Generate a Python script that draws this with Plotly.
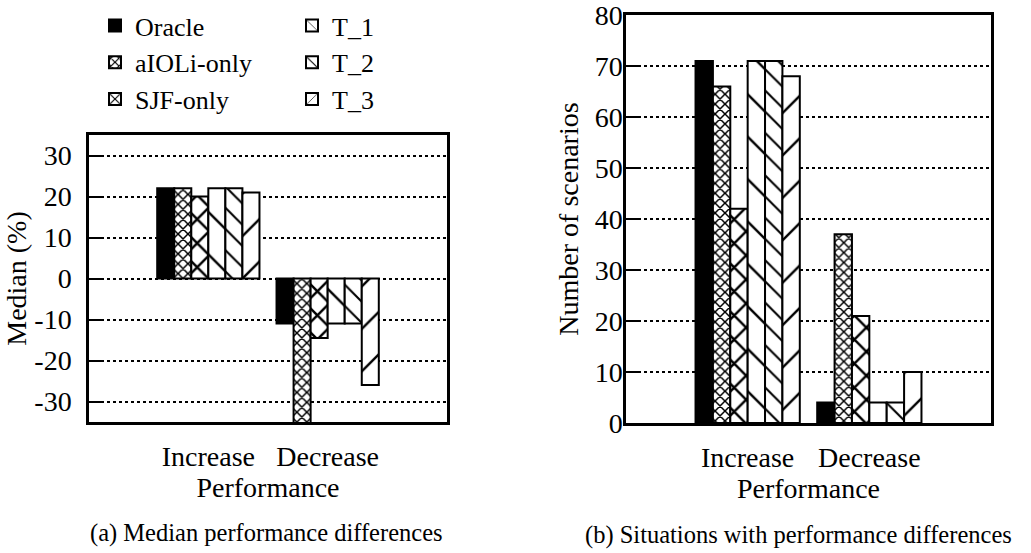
import plotly.graph_objects as go

categories = ["Increase", "Decrease"]
series_names = ["Oracle", "aIOLi-only", "SJF-only", "T_1", "T_2", "T_3"]
median_values = {
    "Oracle": [22, -11],
    "aIOLi-only": [22, -38],
    "SJF-only": [20, -14.5],
    "T_1": [22, -11],
    "T_2": [22, -11],
    "T_3": [21, -26],
}
scenario_counts = {
    "Oracle": [71, 4],
    "aIOLi-only": [66, 37],
    "SJF-only": [42, 21],
    "T_1": [71, 4],
    "T_2": [71, 4],
    "T_3": [68, 10],
}
left_ticks = [-30, -20, -10, 0, 10, 20, 30]
right_ticks = [0, 10, 20, 30, 40, 50, 60, 70, 80]

FONT = "Liberation Serif, Times New Roman, Times, serif"
FS = 28

W, H = 1031, 553


def px(v):
    return v / W


def py(v):
    return 1 - v / H


patterns = {
    "Oracle": dict(shape="", fillmode="replace"),
    "aIOLi-only": dict(shape="x", size=7, solidity=0.38, fgcolor="black", bgcolor="white", fillmode="replace"),
    "SJF-only": dict(shape="x", size=17, solidity=0.27, fgcolor="black", bgcolor="white", fillmode="replace"),
    "T_1": dict(shape="\\", size=30, solidity=0.08, fgcolor="black", bgcolor="white", fillmode="replace"),
    "T_2": dict(shape="\\", size=15, solidity=0.14, fgcolor="black", bgcolor="white", fillmode="replace"),
    "T_3": dict(shape="/", size=30, solidity=0.08, fgcolor="black", bgcolor="white", fillmode="replace"),
}
legend_of = {"Oracle": "legend", "aIOLi-only": "legend", "SJF-only": "legend",
             "T_1": "legend2", "T_2": "legend2", "T_3": "legend2"}

fig = go.Figure()

for name in series_names:
    color = "black" if name == "Oracle" else "white"
    pat = patterns[name]
    for vals, xa, ya, show in [(median_values[name], "x", "y", True),
                               (scenario_counts[name], "x2", "y2", False)]:
        fig.add_trace(go.Bar(
            x=categories, y=vals, name=name, xaxis=xa, yaxis=ya,
            marker=dict(color=color, line=dict(color="black", width=2),
                        pattern=pat if pat["shape"] else None),
            showlegend=show, legend=legend_of[name], legendgroup=name,
        ))

axis_common = dict(showline=True, linecolor="black", linewidth=2.5, mirror=True,
                   tickfont=dict(family=FONT, size=FS, color="black"))
grid_common = dict(ticks="inside", ticklen=15, tickwidth=2, tickcolor="black",
                   showgrid=True, gridcolor="black", griddash="dot", gridwidth=1.5,
                   zeroline=False, ticklabeloverflow="allow")
title_font = dict(family=FONT, size=FS, color="black")
legend_font = dict(family=FONT, size=26, color="black")

fig.update_layout(
    width=W, height=H,
    margin=dict(l=0, r=0, t=0, b=0),
    paper_bgcolor="white", plot_bgcolor="white",
    barmode="group", bargap=0.143, bargroupgap=0,
    font=dict(family=FONT, size=FS, color="black"),
    xaxis=dict(domain=[px(89), px(447)], anchor="y", type="category", range=[-1, 2],
               ticks="", ticklabelstandoff=8, showgrid=False,
               title=dict(text="Performance", font=title_font, standoff=3),
               automargin=False, **axis_common),
    yaxis=dict(domain=[py(422), py(135)], anchor="x", range=[-35, 35],
               tickvals=left_ticks, ticktext=[str(v) for v in left_ticks],
               ticklabelstandoff=9,
               title=dict(text="Median (%)", font=title_font, standoff=0),
               automargin=False, **grid_common, **axis_common),
    xaxis2=dict(domain=[px(626), px(991)], anchor="y2", type="category", range=[-1, 2],
                ticks="", ticklabelstandoff=8, showgrid=False,
                title=dict(text="Performance", font=title_font, standoff=3),
                automargin=False, **axis_common),
    yaxis2=dict(domain=[py(423), py(15)], anchor="x2", range=[0, 80],
                tickvals=right_ticks, ticktext=[str(v) for v in right_ticks],
                ticklabelstandoff=-5,
                title=dict(text="Number of scenarios", font=title_font, standoff=8),
                automargin=False, **grid_common, **axis_common),
    legend=dict(x=px(95), y=py(2), xanchor="left", yanchor="top",
                bgcolor="rgba(0,0,0,0)", font=legend_font,
                orientation="v", tracegroupgap=0, itemsizing="constant"),
    legend2=dict(x=px(292), y=py(2), xanchor="left", yanchor="top",
                 bgcolor="rgba(0,0,0,0)", font=legend_font,
                 orientation="v", tracegroupgap=0, itemsizing="constant"),
    annotations=[
        dict(text="(a) Median performance differences", xref="paper", yref="paper",
             x=px(266), y=py(533), xanchor="center", yanchor="middle", showarrow=False,
             font=dict(family=FONT, size=24.5, color="black")),
        dict(text="(b) Situations with performance differences", xref="paper", yref="paper",
             x=px(798), y=py(535), xanchor="center", yanchor="middle", showarrow=False,
             font=dict(family=FONT, size=24.5, color="black")),
    ],
)

# remove the default 8px page margin so the figure fills the window exactly
fig.write_html("out.html", config={"displayModeBar": False},
               post_script="document.body.style.margin='0';")
